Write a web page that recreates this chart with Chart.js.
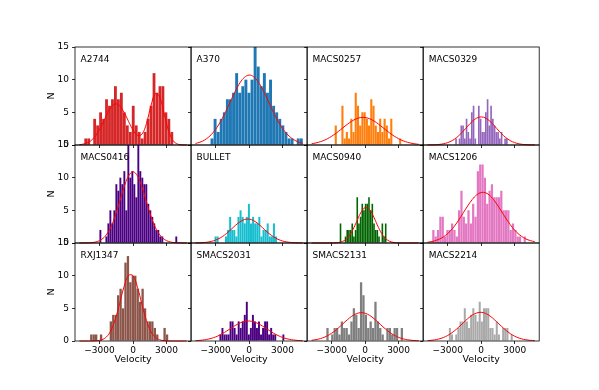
<!DOCTYPE html>
<html><head><meta charset="utf-8">
<script src="https://cdn.jsdelivr.net/npm/chart.js@4/dist/chart.umd.min.js"></script>
<style>html,body{margin:0;padding:0;background:#fff;width:599px;height:390px;overflow:hidden}
canvas{position:absolute;left:0;top:0}</style></head>
<body>
<script>
const clusters = ['A2744','A370','MACS0257','MACS0329','MACS0416','BULLET','MACS0940','MACS1206','RXJ1347','SMACS2031','SMACS2131','MACS2214'];
const binStarts = [-4370,-3460,-2730,-2330,-3015,-3100,-2280,-4390,-3850,-2660,-3480,-2900];
const binWidths = [266,276,199,157,179,187,150,210,219,182,215,191];

const counts_A2744 = [1,1,0,4,3,5,4,7,6,7,9,7,8,5,3,2,6,3,2,1,2,4,6,11,8,9,9,5,4,2];
const counts_A370 = [1,4,2,4,5,7,7,8,11,8,9,10,8,10,15,12,9,11,8,10,6,5,4,3,2,1,1,0,1,1];
const counts_MACS0257 = [3,0,0,6,1,2,1,4,2,8,6,3,5,5,4,3,7,6,3,2,4,2,4,3,1,4,0,0,0,1];
const counts_MACS0329 = [1,0,1,3,3,1,4,2,1,5,6,1,0,6,4,2,2,5,7,3,6,4,3,2,2,1,2,0,1,1];
const counts_MACS0416 = [2,0,0,1,3,5,3,5,9,8,10,9,11,5,16,10,11,9,7,16,11,10,9,9,6,5,4,3,2,2,1,1,0,0,0,0,0,0,1];
const counts_BULLET = [1,1,0,0,0,1,2,4,2,2,1,4,5,4,3,4,6,3,4,3,3,4,1,2,2,3,1,1,3,1];
const counts_MACS0940 = [3,0,0,1,2,2,2,3,1,2,7,3,4,6,5,6,6,7,5,6,3,2,2,1,0,3,1,3];
const counts_MACS1206 = [2,1,2,4,4,1,2,2,3,2,1,5,8,4,3,5,3,6,4,11,12,12,10,6,8,9,7,7,7,8,5,5,5,2,3,2,1,1,0,1];
const counts_RXJ1347 = [1,1,1,0,1,0,0,0,3,4,4,7,8,5,12,13,9,10,10,8,6,8,5,3,3,3,2,1,0,0,2,1];
const counts_SMACS2031 = [1,2,1,1,1,3,3,2,1,3,2,3,4,6,1,2,4,3,2,3,1,2,3,3,1,2,1,1,0,0,0,1];
const counts_SMACS2131 = [2,0,1,2,2,1,3,2,2,1,3,5,4,2,9,7,4,2,3,2,6,3,2,1,0,2,2,1,2,2,0,2];
const counts_MACS2214 = [2,1,0,1,2,3,3,5,3,2,4,5,4,3,6,3,5,5,5,2,2,1,3,1,0,2,2,2,0,1];

const fitX = [-4800,-4400,-4000,-3600,-3200,-2800,-2400,-2000,-1600,-1200,-800,-400,0,400,800,1200,1600,2000,2400,2800,3200,3600,4000,4400,4800];
const fit_A2744 = [0.05,0.16,0.41,0.92,1.79,3.04,4.46,5.69,6.28,6.02,5.00,3.61,2.30,1.49,1.66,3.26,5.95,7.87,7.31,4.71,2.10,0.65,0.14,0.02,0.00];
const fit_A370 = [0.24,0.43,0.75,1.25,1.95,2.90,4.08,5.46,6.93,8.36,9.57,10.38,10.70,10.46,9.71,8.56,7.16,5.68,4.28,3.06,2.08,1.34,0.82,0.47,0.26];
const fit_MACS0257 = [0.19,0.32,0.51,0.77,1.13,1.56,2.07,2.62,3.16,3.64,4.01,4.20,4.21,4.02,3.67,3.19,2.65,2.10,1.59,1.15,0.79,0.52,0.33,0.19,0.11];
const fit_MACS0329 = [0.01,0.02,0.05,0.12,0.26,0.50,0.89,1.44,2.13,2.90,3.61,4.12,4.30,4.12,3.61,2.90,2.13,1.44,0.89,0.50,0.26,0.12,0.05,0.02,0.01];
const fit_MACS0416 = [0.00,0.01,0.03,0.08,0.23,0.56,1.24,2.40,4.14,6.33,8.56,10.26,10.90,10.26,8.56,6.33,4.14,2.40,1.24,0.56,0.23,0.08,0.03,0.01,0.00];
const fit_BULLET = [0.01,0.03,0.08,0.17,0.33,0.59,0.97,1.49,2.10,2.73,3.26,3.60,3.66,3.43,2.96,2.35,1.72,1.17,0.73,0.42,0.22,0.11,0.05,0.02,0.01];
const fit_MACS0940 = [0,0,0,0,0,0.02,0.07,0.26,0.74,1.70,3.12,4.59,5.42,5.13,3.89,2.36,1.15,0.45,0.14,0.04,0.01,0,0,0,0];
const fit_MACS1206 = [0.12,0.23,0.42,0.72,1.16,1.78,2.58,3.55,4.63,5.70,6.66,7.37,7.73,7.68,7.23,6.44,5.44,4.35,3.30,2.37,1.61,1.04,0.63,0.37,0.20];
const fit_RXJ1347 = [0,0,0,0.01,0.05,0.19,0.60,1.54,3.27,5.74,8.34,10.03,9.99,8.23,5.61,3.17,1.48,0.57,0.18,0.05,0.01,0,0,0,0];
const fit_SMACS2031 = [0.05,0.10,0.18,0.31,0.50,0.77,1.12,1.53,1.98,2.41,2.77,3.00,3.06,2.94,2.67,2.29,1.84,1.40,1.01,0.68,0.43,0.26,0.15,0.08,0.04];
const fit_SMACS2131 = [0.11,0.21,0.37,0.62,0.97,1.43,1.99,2.62,3.24,3.79,4.17,4.34,4.25,3.92,3.42,2.81,2.17,1.59,1.09,0.71,0.43,0.25,0.14,0.07,0.03];
const fit_MACS2214 = [0.06,0.12,0.23,0.40,0.67,1.05,1.55,2.14,2.79,3.43,3.96,4.29,4.39,4.22,3.81,3.24,2.60,1.96,1.39,0.92,0.58,0.34,0.19,0.10,0.05];

const xTickValues = [-3000, 0, 3000];
const xTickLabels = ['\u22123000', '0', '3000'];
const yTickValues = [0, 5, 10, 15];
const yTickLabels = ['0', '5', '10', '15'];

const countsByCluster = [counts_A2744,counts_A370,counts_MACS0257,counts_MACS0329,counts_MACS0416,counts_BULLET,counts_MACS0940,counts_MACS1206,counts_RXJ1347,counts_SMACS2031,counts_SMACS2131,counts_MACS2214];
const fitsByCluster = [fit_A2744,fit_A370,fit_MACS0257,fit_MACS0329,fit_MACS0416,fit_BULLET,fit_MACS0940,fit_MACS1206,fit_RXJ1347,fit_SMACS2031,fit_SMACS2131,fit_MACS2214];
const colors = ['#d62728','#1f77b4','#ff7f0e','#9467bd','#4b0082','#17becf','#006400','#e377c2','#8c564b','#4b0082','#7f7f7f','#a9a9a9'];

const W = 599, H = 390;
const L0 = 75, T0 = 47, PW = 116.05, PH = 98;
const YW = 28.7, XH = 24;
const FONT = {family: 'DejaVu Sans', size: 9};

function framePlugin(name) {
  return {
    id: 'frame',
    afterDatasetsDraw(chart) {
      const a = chart.chartArea, ctx = chart.ctx;
      ctx.save();
      ctx.strokeStyle = '#000';
      ctx.lineWidth = 0.8;
      ctx.strokeRect(a.left, a.top, a.right - a.left, a.bottom - a.top);
      ctx.fillStyle = '#000';
      ctx.font = '9px "DejaVu Sans"';
      ctx.textBaseline = 'middle';
      ctx.textAlign = 'left';
      ctx.fillText(name, a.left + 5.5, a.top + 13);
      ctx.restore();
    }
  };
}

clusters.forEach((name, k) => {
  const r = Math.floor(k / 4), c = k % 4;
  const left = L0 + c * PW, top = T0 + r * PH, right = left + PW, bottom = top + PH;
  const isLeft = c === 0, isBottom = r === 2;
  const canvas = document.createElement('canvas');
  canvas.width = W; canvas.height = H;
  canvas.style.width = W + 'px'; canvas.style.height = H + 'px';
  document.body.appendChild(canvas);
  const bars = countsByCluster[k].map((n, i) => ({x: binStarts[k] + (i + 0.5) * binWidths[k], y: n}));
  const fit = fitX.map((x, i) => ({x: x, y: fitsByCluster[k][i]}));
  new Chart(canvas, {
    type: 'bar',
    data: {datasets: [
      {type: 'line', data: fit, borderColor: '#ff0000', borderWidth: 1, pointRadius: 0, tension: 0.4, order: 0, clip: 3, fill: false},
      {type: 'bar', data: bars, backgroundColor: colors[k], borderWidth: 0, barPercentage: 0.95, categoryPercentage: 1, order: 1, clip: 0}
    ]},
    options: {
      responsive: false, animation: false, devicePixelRatio: 1,
      layout: {padding: {left: left - YW, top: top, right: W - right, bottom: H - bottom - XH}},
      plugins: {legend: {display: false}, tooltip: {enabled: false}},
      scales: {
        x: {
          type: 'linear', min: -5200, max: 5200, offset: false,
          afterBuildTicks: s => { s.ticks = xTickValues.map(v => ({value: v})); },
          afterFit: s => { s.height = XH; },
          grid: {display: true, drawOnChartArea: false, drawTicks: true, tickLength: 3, color: '#000', lineWidth: 0.8, offset: false},
          border: {display: false},
          ticks: {display: isBottom, font: FONT, color: '#000', padding: 1, maxRotation: 0, autoSkip: false, callback: (v, i) => xTickLabels[i]},
          title: {display: isBottom, text: 'Velocity', font: {family: 'DejaVu Sans', size: 9.5}, color: '#000', padding: 0}
        },
        y: {
          type: 'linear', min: 0, max: 15,
          afterBuildTicks: s => { s.ticks = yTickValues.map(v => ({value: v})); },
          afterFit: s => { s.width = YW; },
          grid: {display: true, drawOnChartArea: false, drawTicks: true, tickLength: 3, color: '#000', lineWidth: 0.8},
          border: {display: false},
          ticks: {display: isLeft, font: FONT, color: '#000', padding: 3, autoSkip: false, callback: (v, i) => yTickLabels[i]},
          title: {display: isLeft, text: 'N', font: {family: 'DejaVu Sans', size: 9.5}, color: '#000', padding: 0}
        }
      }
    },
    plugins: [framePlugin(name)]
  });
});
</script>
</body></html>
